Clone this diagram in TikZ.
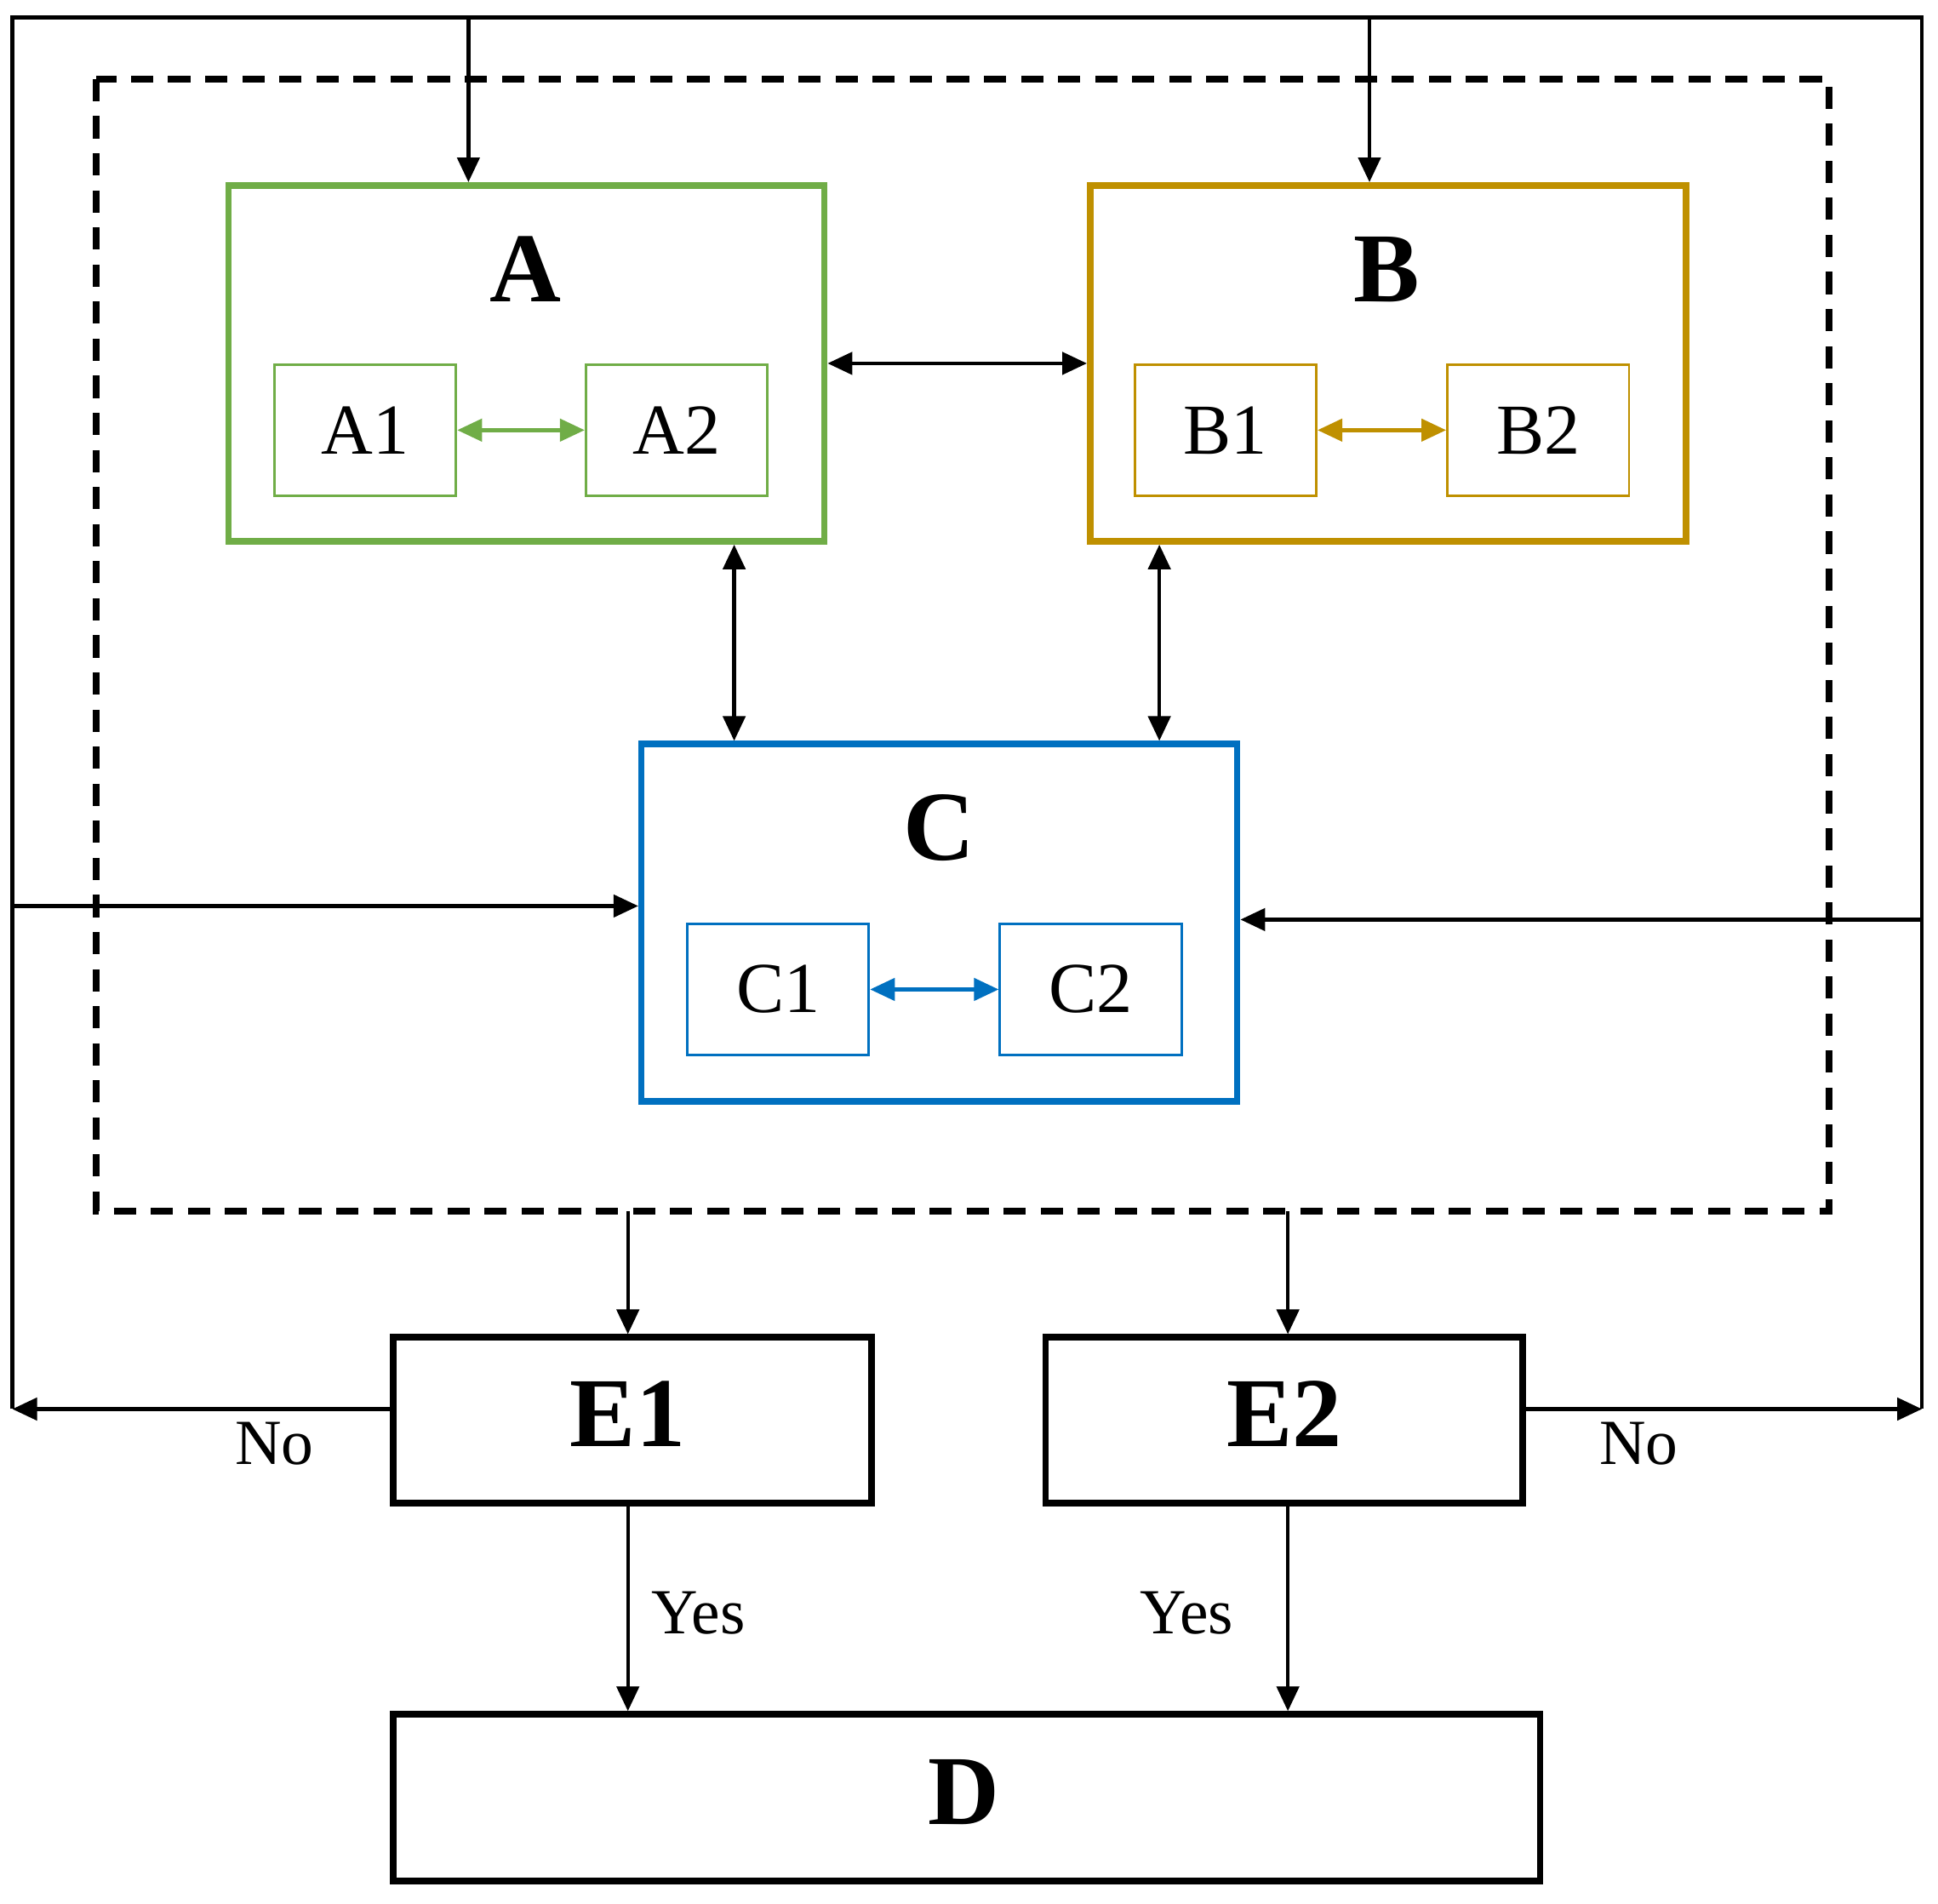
\documentclass[tikz,border=0pt]{standalone}
\usepackage{fontspec}
\setmainfont{Liberation Serif}
\usetikzlibrary{arrows.meta}
\definecolor{a color}{HTML}{70AD47}
\definecolor{b color}{HTML}{BF9000}
\definecolor{c color}{HTML}{0070C0}
\tikzset{
    x={0.5pt},
    y={-0.5pt},
    main box/.style={
        draw={#1},
        line width={2.6pt},
        inner sep=0pt,
    },
    main box/.default={black},
    sub box/.style={
        draw={#1},
        line width={1pt},
        inner sep=0pt,
        minimum width={73.5pt},
        minimum height={53pt},
        font={\fontsize{29}{30}\selectfont},
    },
    big label/.style={
        font={\fontsize{40}{42}\selectfont\bfseries},
        inner sep=0pt,
    },
    small label/.style={
        font={\fontsize{26}{28}\selectfont},
        inner sep=0pt,
    },
    link/.style={
        draw={#1},
        line width={1.5pt},
        -{Triangle[length=10pt,width=9pt]},
    },
    link/.default={black},
    both link/.style={
        link={#1},
        {Triangle[length=10pt,width=9pt]}-{Triangle[length=10pt,width=9pt]},
    },
    both link/.default={black},
    frame line/.style={
        draw=black,
        line width={1.5pt},
    },
}

\begin{document}
\begin{tikzpicture}
\useasboundingbox (0,0) rectangle (1568,1540);
% dashed frame
\draw[line width={2.6pt}, dash pattern=on 9pt off 6pt] (78,64) rectangle (1480,980);
% boxes
\node[main box={a color}, minimum width={241pt}, minimum height={144pt}] (A) at (426,294) {};
\node[main box={b color}, minimum width={241pt}, minimum height={144pt}] (B) at (1123,294) {};
\node[main box={c color}, minimum width={241pt}, minimum height={144.5pt}] (C) at (760,746.5) {};
\node[main box, minimum width={193.5pt}, minimum height={67pt}] (E1) at (511.5,1149) {};
\node[main box, minimum width={193pt}, minimum height={67pt}] (E2) at (1039,1149) {};
\node[main box, minimum width={464pt}, minimum height={67.5pt}] (D) at (782,1454.5) {};
% labels
\node[big label] (labA) at (425,218) {A};
\node[big label] (labB) at (1122,218) {B};
\node[big label] (labC) at (760,670) {C};
\node[big label] (labE1) at (508,1144) {E1};
\node[big label] (labE2) at (1039,1144) {E2};
\node[big label] (labD) at (780,1450) {D};
% sub boxes
\node[sub box={a color}] (A1) at (295.5,348) {A1};
\node[sub box={a color}] (A2) at (547.5,348) {A2};
\node[sub box={b color}] (B1) at (991.5,348) {B1};
\node[sub box={b color}] (B2) at (1244.5,348) {B2};
\node[sub box={c color}] (C1) at (629.5,800.5) {C1};
\node[sub box={c color}] (C2) at (882.5,800.5) {C2};
% corners of the outer loop
\coordinate (tl) at (10,14);
\coordinate (tr) at (1555,14);
\coordinate (nl) at (10,1140);
\coordinate (nr) at (1555,1140);
\coordinate (ta) at (379,14);
\coordinate (tb) at (1108,14);
\coordinate (lc) at (10,733);
\coordinate (rc) at (1555,744);
\coordinate (ac) at (594,0);
\coordinate (bc) at (938,0);
\coordinate (de1) at (508,980);
\coordinate (de2) at (1042,980);
% connectors
\path[both link={a color}] (A1) -- (A2);
\path[both link={b color}] (B1) -- (B2);
\path[both link={c color}] (C1) -- (C2);
\path[both link] (A.east) -- (B.west);
\path[both link] (A.south -| ac) -- (C.north -| ac);
\path[both link] (B.south -| bc) -- (C.north -| bc);
\path[frame line] (nl) -- (tl) -- (tr) -- (nr);
\path[link] (ta) -- (A.north -| ta);
\path[link] (tb) -- (B.north -| tb);
\path[link] (lc) -- (C.west |- lc);
\path[link] (rc) -- (C.east |- rc);
\path[link] (de1) -- (E1.north -| de1);
\path[link] (de2) -- (E2.north -| de2);
\path[link] (E1.west |- nl) -- (nl);
\path[link] (E2.east |- nr) -- (nr);
\path[link] (E1.south -| de1) -- (D.north -| de1);
\path[link] (E2.south -| de2) -- (D.north -| de2);
% answers
\node[small label] (no1) at (222,1168) {No};
\node[small label] (no2) at (1326,1168) {No};
\node[small label] (yes1) at (565,1305) {Yes};
\node[small label] (yes2) at (960,1305) {Yes};
\end{tikzpicture}
\end{document}
